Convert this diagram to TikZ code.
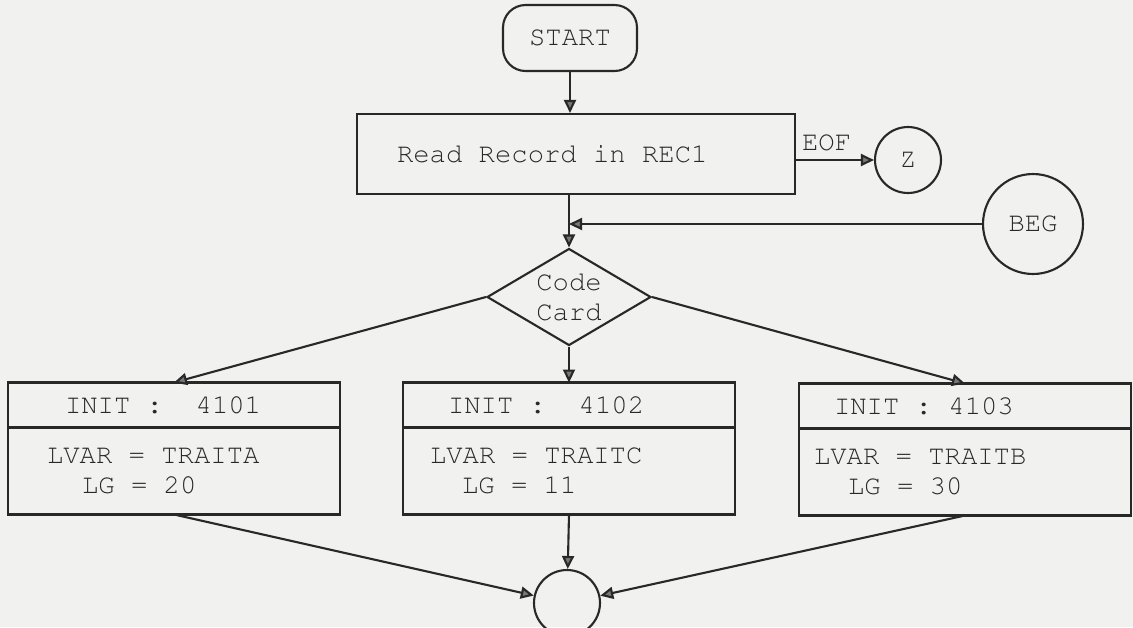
\documentclass[tikz,border=0pt]{standalone}
\usepackage[T1]{fontenc}
\usepackage{xcolor}
\usepackage{tikz}
\usetikzlibrary{positioning,arrows.meta,shapes.geometric}
\renewcommand{\ttdefault}{pcr}
\newcommand{\flowfont}{\ttfamily\fontsize{15.5}{17}\selectfont}
\definecolor{inkgray}{RGB}{40,40,40}
\definecolor{papergray}{RGB}{241,241,239}
\definecolor{tipgray}{RGB}{120,120,120}
\tikzset{
  flow-text/.style={font=\flowfont, text=inkgray},
  terminal-node/.style={flow-text, draw=inkgray, line width=1.2pt, rounded corners=0.45cm,
    minimum width=2.68cm, minimum height=1.32cm},
  process-node/.style={flow-text, draw=inkgray, line width=1.2pt, minimum width=8.76cm,
    minimum height=1.6cm, text width=7.16cm, inner xsep=0.8cm, align=flush left},
  connector-node/.style={flow-text, draw=inkgray, line width=1.2pt, circle,
    minimum size=1.32cm, inner sep=0pt},
  decision-node/.style={flow-text, draw=inkgray, line width=1.2pt, diamond, aspect=1.7,
    minimum width=3.28cm, minimum height=1.94cm, inner sep=1pt, align=flush center},
  init-part/.style={flow-text, draw=inkgray, line width=1.2pt, outer sep=0pt, minimum width=6.64cm,
    minimum height=0.9cm, text width=6.24cm, inner xsep=0.2cm, align=flush left},
  var-part/.style={init-part, minimum height=1.74cm},
  flow-arrow/.style={-{Triangle[length=2.6mm, width=2.4mm, fill=tipgray]}, line width=1.2pt, draw=inkgray},
  edge-label/.style={flow-text, inner xsep=0.1cm, inner ysep=0.16cm}
}
\begin{document}
\begin{tikzpicture}[x=0.02cm, y=-0.02cm, node distance=0pt]
% Paper
\fill[papergray] (0,0) rectangle (1133,627);
\useasboundingbox (0,0) rectangle (1133,627);

% Reading the record
\node[terminal-node] (start) at (570,38) {START};
\node[process-node] (read) at (576,154) {Read Record in REC1};
\node[connector-node] (z) at (908,160) {Z};
\node[connector-node, minimum size=2cm] (beg) at (1033,224) {BEG};
\node[decision-node] (code) at (569,297) {Code\\Card};

% Three init blocks
\node[init-part] (init1) at (174,405) {\hspace*{0.94cm}INIT :\ \ 4101};
\node[var-part, below=of init1] (var1)
  {\hspace*{0.58cm}LVAR = TRAITA\\\hspace*{1.28cm}LG = 20};
\node[init-part] (init2) at (569,405) {\hspace*{0.7cm}INIT :\ \ 4102};
\node[var-part, below=of init2] (var2)
  {\hspace*{0.34cm}LVAR = TRAITC\\\hspace*{0.98cm}LG = 11};
\node[init-part] (init3) at (965,406) {\hspace*{0.5cm}INIT : 4103};
\node[var-part, below=of init3] (var3)
  {\hspace*{0.1cm}LVAR = TRAITB\\\hspace*{0.78cm}LG = 30};

% Joining point
\node[connector-node] (join) at (567,603) {};

% Connectors
\draw[flow-arrow] (start) -- (start |- read.north);
\draw[flow-arrow] (read.east |- z) -- (z) node[edge-label, anchor=south west, pos=0] (eof) {EOF};
\draw[flow-arrow] (beg) -- (code.north |- beg);
\draw[flow-arrow] (code.north |- read.south) -- (code.north);
\draw[flow-arrow] (code.west) -- (init1.north);
\draw[flow-arrow] (code.south) -- (init2.north);
\draw[flow-arrow] (code.east) -- (init3.north);
\draw[flow-arrow] (var1.south) -- (join);
\draw[flow-arrow] (var2.south) -- (join);
\draw[flow-arrow] (var3.south) -- (join);
\end{tikzpicture}
\end{document}
